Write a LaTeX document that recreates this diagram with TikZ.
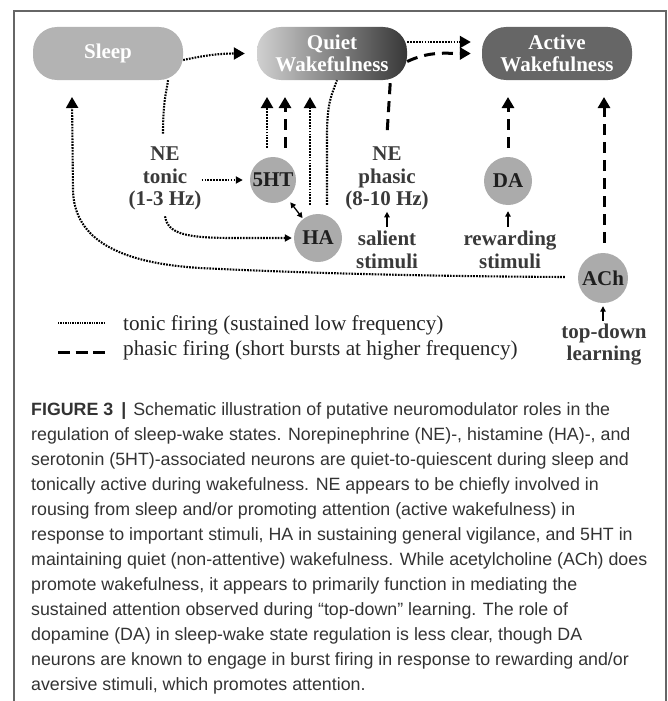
\documentclass[tikz,border=0pt]{standalone}
\usepackage{fontspec}
\setmainfont{Liberation Serif}
\newfontfamily\capsans{Liberation Sans}
\usetikzlibrary{arrows.meta}
\definecolor{framecol}{HTML}{666666}
\definecolor{sleepgray}{HTML}{B3B3B3}
\definecolor{activegray}{HTML}{666666}
\definecolor{qleft}{HTML}{D0D0D0}
\definecolor{qright}{HTML}{383838}
\definecolor{circgray}{HTML}{ABABAB}
\definecolor{labelgray}{HTML}{3A3A3A}
\definecolor{circtext}{HTML}{1E1E1E}
\definecolor{captext}{HTML}{333333}
\newcommand\diagfont{\fontsize{21}{22.5}\selectfont\bfseries}
\newcommand\legfont{\fontsize{21.2}{25}\selectfont}
\newcommand\capfont{\capsans\fontsize{17.8}{25}\selectfont}
\tikzset{
  statebox/.style={rounded corners=24pt, minimum width=150pt, minimum height=53pt,
    inner sep=0pt, text=white, font=\diagfont, align=center},
  circ/.style={circle, fill=circgray, inner sep=0pt, font=\diagfont, text=circtext},
  lbl/.style={font=\diagfont, text=labelgray, align=center, inner sep=0pt},
  tonicline/.style={line width=2.1pt, dash pattern=on 1.7pt off 1.2pt},
  phasicline/.style={line width=3pt, dash pattern=on 11pt off 7pt},
  bigtip/.style={-{Triangle[length=11pt,width=12pt]}},
  smalltip/.style={-{Triangle[length=7pt,width=7pt]}},
  stimarrow/.style={line width=1.2pt, -{Triangle[length=5.5pt,width=5.5pt]}},
  legtext/.style={anchor=base west, inner sep=0pt, font=\legfont, text=black!85},
  capline/.style={anchor=base west, inner sep=0pt, font=\capfont, text=captext},
}
\begin{document}
\begin{tikzpicture}[x=1pt,y=-1pt]
\useasboundingbox (0,0) rectangle (668,701);
% frame
\draw[framecol, line width=1.2pt] (14,701) -- (14,11) -- (666,11) -- (666,701);

% state boxes
\node[statebox, fill=sleepgray] (sleep) at (108,53.5) {Sleep};
\node[statebox, left color=qleft, right color=qright] (quiet) at (332,53.5) {Quiet\\Wakefulness};
\node[statebox, fill=activegray] (active) at (557,53.5) {Active\\Wakefulness};

% neuromodulator circles
\node[circ, minimum size=46pt] (sht) at (273,180) {5HT};
\node[circ, minimum size=48pt] (ha) at (318,238) {HA};
\node[circ, minimum size=48pt] (da) at (508,181) {DA};
\node[circ, minimum size=50pt] (ach) at (603,278) {ACh};

% labels
\node[lbl] (netonic) at (165,178.5) {NE\\tonic\\(1-3 Hz)};
\node[lbl] (nephasic) at (387,178.5) {NE\\phasic\\(8-10 Hz)};
\node[lbl] (salient) at (387,250) {salient\\stimuli};
\node[lbl] (reward) at (510,250) {rewarding\\stimuli};
\node[lbl] (topdown) at (604,344.6) {top-down\\learning};

% arrow tip targets
\coordinate (t5a) at (267,97);
\coordinate (t5b) at (285,97);
\coordinate (tha) at (310,97);
\coordinate (tda) at (508,97);
\coordinate (tach) at (604,97);
\coordinate (tsleep) at (72,97);

% state transitions
\draw[tonicline,bigtip] ([yshift=-6.5pt]sleep.east) to[out=12,in=180] ([xshift=-12pt]quiet.west);
\draw[tonicline,bigtip] ([yshift=11.5pt]quiet.east) -- ([xshift=-11pt,yshift=11.5pt]active.west);
\draw[phasicline,bigtip] ([yshift=-8pt]quiet.east) to[out=25,in=180] ([xshift=-11pt]active.west);

% up arrows to quiet wakefulness
\draw[tonicline,bigtip] ([xshift=-6pt,yshift=9pt]sht.north) -- (t5a);
\draw[phasicline,bigtip] ([xshift=12pt,yshift=9pt]sht.north) -- (t5b);
\draw[tonicline,bigtip] ([xshift=-8pt,yshift=9pt]ha.north) -- (tha);
\draw[tonicline] ([xshift=9pt,yshift=9pt]ha.north) -- ++(0,-70)
   .. controls +(0,-35) and +(-4,12) .. ([xshift=5pt]quiet.south);

% NE tonic
\draw[tonicline] ([xshift=-2pt,yshift=13pt]netonic.north) .. controls +(0,-35) and +(-1,10) .. ([xshift=60pt]sleep.south);
\draw[tonicline,smalltip] ([yshift=-1.5pt]netonic.east) -- ([xshift=-7pt]sht.west);
\draw[tonicline,smalltip] ([yshift=-6pt]netonic.south) .. controls +(3,17) and +(-50,0) .. ([xshift=-60pt]ha.west) -- ([xshift=-2pt]ha.west);
\draw[line width=1.3pt, {Triangle[length=5.5pt,width=5.5pt]}-{Triangle[length=5.5pt,width=5.5pt]},
      shorten <=5pt, shorten >=1pt] (sht) -- (ha);

% NE phasic
\draw[phasicline] ([xshift=-17pt,yshift=-3pt]quiet.south east) -- ([yshift=12pt]nephasic.north);

% DA and ACh to active wakefulness
\draw[phasicline,bigtip] ([yshift=9pt]da.north) -- (tda);
\draw[phasicline,bigtip] ([xshift=1pt,yshift=10pt]ach.north) -- (tach);

% stimuli arrows
\draw[stimarrow] ([yshift=4pt]salient.north) -- ([yshift=-1.5pt]nephasic.south);
\draw[stimarrow] ([xshift=-2pt,yshift=4pt]reward.north) -- ([yshift=-6pt]da.south);
\draw[stimarrow] ([xshift=-1pt,yshift=3pt]topdown.north) -- ([yshift=-3pt]ach.south);

% ACh to sleep
\draw[tonicline,bigtip] ([xshift=-13pt,yshift=1pt]ach.west) .. controls (380,276) and (260,271) .. (200,268)
   .. controls (120,263) and (74,240) .. (73,190) -- (tsleep);

% legend
\coordinate (lg1a) at (58,323);
\coordinate (lg1b) at (105,323);
\coordinate (lg2a) at (58,352);
\coordinate (lg2b) at (105,352);
\draw[line width=1.6pt, dash pattern=on 1.3pt off 1.1pt] (lg1a) -- (lg1b);
\draw[line width=3pt, dash pattern=on 12pt off 5.5pt] (lg2a) -- (lg2b);
\node[legtext] (leg1) at (123,330) {tonic firing (sustained low frequency)};
\node[legtext] (leg2) at (123,355) {phasic firing (short bursts at higher frequency)};

% caption
\node[capline] (c1) at (31,415) {{\bfseries FIGURE 3}\hspace{8pt}{\bfseries|}\hspace{7pt}Schematic illustration of putative neuromodulator roles in the};
\node[capline] (c2) at (31,440) {regulation of sleep-wake states. Norepinephrine (NE)-, histamine (HA)-, and};
\node[capline] (c3) at (31,465) {serotonin (5HT)-associated neurons are quiet-to-quiescent during sleep and};
\node[capline] (c4) at (31,490) {tonically active during wakefulness. NE appears to be chiefly involved in};
\node[capline] (c5) at (31,515) {rousing from sleep and/or promoting attention (active wakefulness) in};
\node[capline] (c6) at (31,540) {response to important stimuli, HA in sustaining general vigilance, and 5HT in};
\node[capline] (c7) at (31,565) {maintaining quiet (non-attentive) wakefulness. While acetylcholine (ACh) does};
\node[capline] (c8) at (31,590) {promote wakefulness, it appears to primarily function in mediating the};
\node[capline] (c9) at (31,615) {sustained attention observed during “top-down” learning. The role of};
\node[capline] (c10) at (31,640) {dopamine (DA) in sleep-wake state regulation is less clear, though DA};
\node[capline] (c11) at (31,665) {neurons are known to engage in burst firing in response to rewarding and/or};
\node[capline] (c12) at (31,690) {aversive stimuli, which promotes attention.};
\end{tikzpicture}
\end{document}
